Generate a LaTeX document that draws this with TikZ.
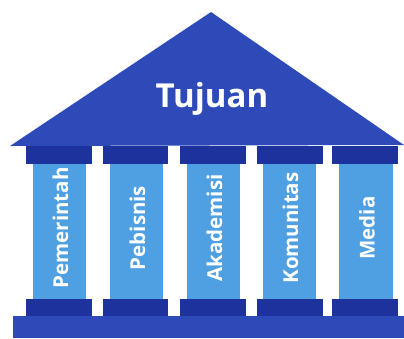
\documentclass[tikz,border=0pt]{standalone}
\usepackage{fontspec}
\setmainfont{Open Sans}
\definecolor{roofblue}{RGB}{46,74,184}
\definecolor{capblue}{RGB}{30,50,158}
\definecolor{colblue}{RGB}{78,160,226}
\tikzset{
  roof/.style={fill=roofblue,draw=none},
  capital/.style={fill=capblue,draw=none},
  column/.style={fill=colblue,draw=none},
  coltext/.style={text=white,font=\bfseries\fontsize{20.5}{20.5}\selectfont,rotate=90,anchor=center,inner sep=0pt},
}
\begin{document}
\begin{tikzpicture}[x=1pt,y=-1pt]
\useasboundingbox (0,0) rectangle (404,338);
% roof
\fill[roof] (211,12) -- (404,145) -- (10,146) -- cycle;
\node[text=white,font=\bfseries\fontsize{33}{33}\selectfont,anchor=base,inner sep=0pt] (title) at (212,107) {Tujuan};
% plinth
\fill[roof] (13,316) rectangle (404,338);
% columns
\foreach \cl/\cr/\kl/\kr/\name/\lab in {
  26/92/33/86/c1/Pemerintah,
  103/168/110/163/c2/Pebisnis,
  180/246/187/240/c3/Akademisi,
  257/323/263/316/c4/Komunitas,
  332/398/339/393/c5/Media}{
  \fill[column] (\kl,163) rectangle (\kr,300);
  \fill[capital] (\cl,146) rectangle (\cr,164);
  \fill[capital] (\cl,299) rectangle (\cr,316);
  \node[coltext] (\name) at ({(\kl+\kr)/2+1},228) {\lab};
}
\end{tikzpicture}
\end{document}
